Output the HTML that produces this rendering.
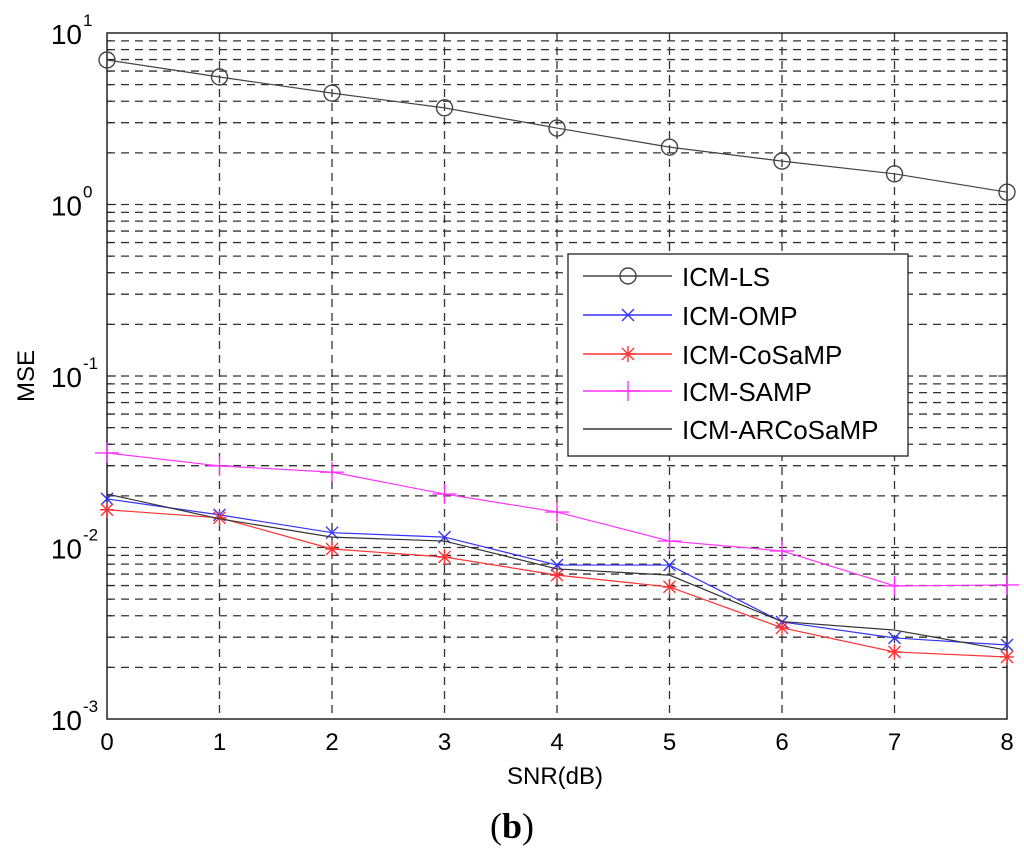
<!DOCTYPE html>
<html><head><meta charset="utf-8"><style>
body{margin:0;background:#fff;}
svg text{font-family:"Liberation Sans",Arial,sans-serif;}
</style></head><body>
<svg id="chart" width="1024" height="860" viewBox="0 0 1024 860" xmlns="http://www.w3.org/2000/svg">
<g id="grid"></g>
<g id="axes"></g>
<g id="series"></g>
<g id="legend"></g>
<text x="555" y="784" font-size="24" text-anchor="middle">SNR(dB)</text>
<text transform="translate(34,376) rotate(-90)" font-size="24" text-anchor="middle">MSE</text>
<text x="512" y="838" font-size="36" text-anchor="middle" style="font-family:'Liberation Serif',serif">(<tspan font-weight="bold">b</tspan>)</text>
</svg>
<script>
const snr = [0,1,2,3,4,5,6,7,8];
const icmLS = [6.96,5.54,4.46,3.66,2.79,2.16,1.79,1.51,1.18];
const icmOMP = [0.0192,0.0155,0.0122,0.0115,0.0079,0.0079,0.00368,0.00297,0.0027];
const icmCoSaMP = [0.0166,0.0149,0.0098,0.0088,0.0069,0.00589,0.0034,0.00246,0.0023];
const icmSAMP = [0.0356,0.0299,0.0275,0.0205,0.0161,0.0109,0.00955,0.00597,0.00605];
const icmARCoSaMP = [0.0205,0.0147,0.0115,0.0109,0.0075,0.0069,0.0037,0.0033,0.00252];
const yTickExps = [1,0,-1,-2,-3];
const xTicks = [0,1,2,3,4,5,6,7,8];

const NS='http://www.w3.org/2000/svg';
const L=107,R=1007,T=33,B=719;
const xs=v=>L+(v-0)/(8-0)*(R-L);
const ys=v=>T+(1-Math.log10(v))/4*(B-T);
function mk(tag,attrs,parent){const e=document.createElementNS(NS,tag);for(const k in attrs)e.setAttribute(k,attrs[k]);parent.appendChild(e);return e;}
const grid=document.getElementById('grid'),axes=document.getElementById('axes'),ser=document.getElementById('series'),leg=document.getElementById('legend');

for(let e=-3;e<1;e++){for(let m=1;m<=9;m++){const v=m*Math.pow(10,e);if(e===-3&&m===1)continue;const y=ys(v);
 const g=mk('line',{x1:L,x2:R,y1:y,y2:y,stroke:'#333','stroke-width':1.3,'stroke-dasharray':'8,6'},grid);
 
 const t1=mk('line',{x1:L,x2:L+(m===1?9:5),y1:y,y2:y,stroke:'#222'},axes);
 const t2=mk('line',{x1:R,x2:R-(m===1?9:5),y1:y,y2:y,stroke:'#222'},axes);
}}
xTicks.forEach(v=>{const x=xs(v);
 if(v>0&&v<8){const g=mk('line',{x1:x,x2:x,y1:T,y2:B,stroke:'#333','stroke-width':1.3,'stroke-dasharray':'8,6'},grid);}
 const t=mk('text',{x:x,y:750,'font-size':24,'text-anchor':'middle'},axes);t.textContent=v;
 
});
yTickExps.forEach(e=>{const y=ys(Math.pow(10,e));
 const t=mk('text',{x:82,y:y+11,'font-size':28,'text-anchor':'end'},axes);t.textContent='10';
 
 const s=mk('text',{x:83,y:y-7,'font-size':17,'text-anchor':'start'},axes);s.textContent=String(e);
 
});
const fr=mk('rect',{x:L,y:T,width:R-L,height:B-T,fill:'none',stroke:'#222','stroke-width':1.5},axes);


function marker(type,x,y,color,parent){
 const g=mk('g',{stroke:color,fill:'none','stroke-width':1.4},parent);
 if(type==='o')mk('circle',{cx:x,cy:y,r:8},g);
 if(type==='x'){mk('path',{d:`M${x-6},${y-6}L${x+6},${y+6}M${x-6},${y+6}L${x+6},${y-6}`},g);}
 if(type==='*'){mk('path',{d:`M${x-7},${y}L${x+7},${y}M${x},${y-8}L${x},${y+8}M${x-6},${y-6}L${x+6},${y+6}M${x-6},${y+6}L${x+6},${y-6}`},g);}
 if(type==='+'){mk('path',{d:`M${x-12},${y}L${x+12},${y}M${x},${y-10}L${x},${y+10}`},g);}
 return g;
}
const list=[
 {name:'ICM-LS',data:icmLS,color:'#444',m:'o',id:'series-icm-ls'},
 {name:'ICM-OMP',data:icmOMP,color:'#3333ff',m:'x',id:'series-icm-omp'},
 {name:'ICM-CoSaMP',data:icmCoSaMP,color:'#ff3333',m:'*',id:'series-icm-cosamp'},
 {name:'ICM-SAMP',data:icmSAMP,color:'#ff33ff',m:'+',id:'series-icm-samp'},
 {name:'ICM-ARCoSaMP',data:icmARCoSaMP,color:'#333',m:null,id:'series-icm-arcosamp'}
];
list.forEach((s,i)=>{
 const g=mk('g',{},ser);
 const pts=s.data.map((v,j)=>xs(snr[j])+','+ys(v)).join(' ');
 const pl=mk('polyline',{points:pts,fill:'none',stroke:s.color,'stroke-width':1.2},g);
 
 if(s.m)s.data.forEach((v,j)=>{const mm=marker(s.m,xs(snr[j]),ys(v),s.color,g);
  });
});
const lb=mk('rect',{x:568,y:254,width:340,height:202,fill:'#fff',stroke:'#222','stroke-width':1.3},leg);

const ly=[276,315,354,391,429];
list.forEach((s,i)=>{
 const g=mk('g',{},leg);
 mk('line',{x1:583,x2:672,y1:ly[i],y2:ly[i],stroke:s.color,'stroke-width':1.4},g);
 if(s.m)marker(s.m,628,ly[i],s.color,g);
 const t=mk('text',{x:682,y:ly[i]+10,'font-size':26},g);t.textContent=s.name;
});
</script>
</body></html>
